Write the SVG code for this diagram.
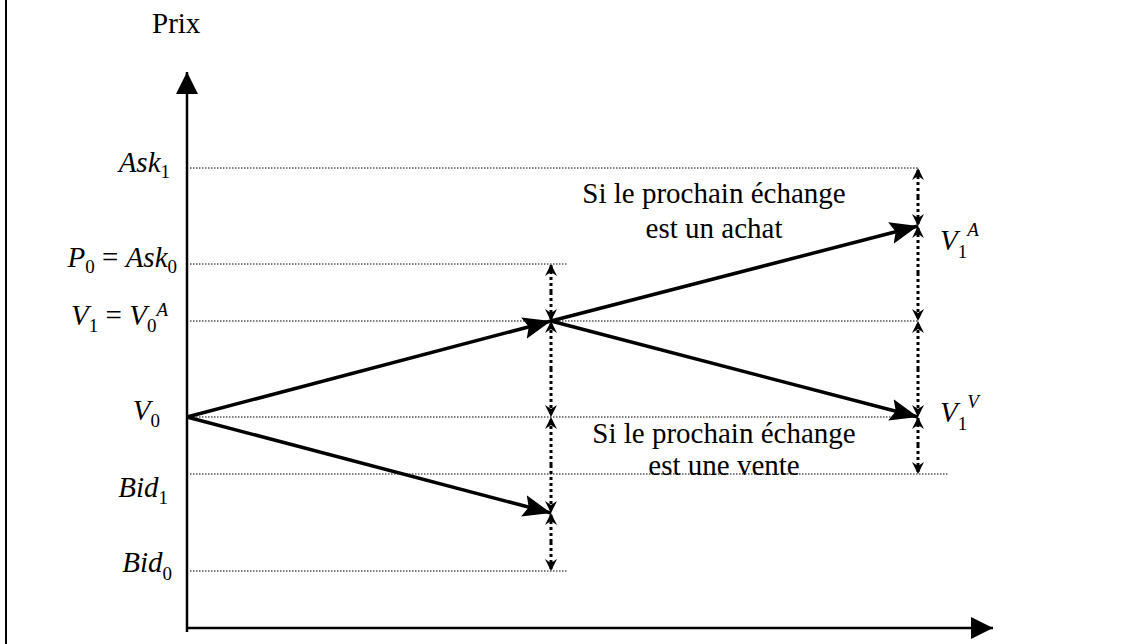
<svg xmlns="http://www.w3.org/2000/svg" width="1136" height="644" viewBox="0 0 1136 644">
<style>
text{font-family:"Liberation Serif","Times New Roman",Times,serif;fill:#000}
.lbl{font-size:29px;font-style:italic}
.sub{font-size:19px;font-style:normal}
.sup{font-size:19px;font-style:italic}
.txt{font-size:29px}
.dot{stroke:#000;stroke-width:1;stroke-dasharray:1.5 1.5;fill:none}
.vd{stroke:#000;stroke-width:3;stroke-dasharray:3 3;fill:none}
.sol{stroke:#000;stroke-width:3.5;fill:none}
.ax{stroke:#000;stroke-width:2.5;fill:none}
</style>
<defs>
<marker id="big" markerUnits="userSpaceOnUse" markerWidth="32" markerHeight="24" refX="28" refY="11" orient="auto" viewBox="0 0 32 24">
<path d="M0,0 L28,11 L0,22 L5,11 Z" fill="#000"/>
</marker>
<marker id="ax" markerUnits="userSpaceOnUse" markerWidth="26" markerHeight="26" refX="22" refY="11" orient="auto" viewBox="0 0 26 26">
<path d="M0,0 L22,11 L0,22 Z" fill="#000"/>
</marker>
<marker id="sm" markerUnits="userSpaceOnUse" markerWidth="14" markerHeight="14" refX="12" refY="6" orient="auto" viewBox="0 0 14 14">
<path d="M0,0 L12,6 L0,12 L4,6 Z" fill="#000"/>
</marker>
</defs>
<rect width="1136" height="644" fill="#fff"/>
<line x1="6" y1="0" x2="6" y2="644" stroke="#000" stroke-width="2"/>
<g id="axes">
<line class="ax" x1="187" y1="632" x2="187" y2="72" marker-end="url(#ax)"/>
<line class="ax" x1="186" y1="628" x2="993" y2="628" marker-end="url(#ax)"/>
</g>
<g id="gridlines">
<line class="dot" x1="190" y1="168" x2="918" y2="168"/>
<line class="dot" x1="190" y1="264" x2="568" y2="264"/>
<line class="dot" x1="190" y1="321" x2="918" y2="321"/>
<line class="dot" x1="190" y1="417" x2="918" y2="417"/>
<line class="dot" x1="190" y1="474" x2="948" y2="474"/>
<line class="dot" x1="190" y1="571" x2="568" y2="571"/>
</g>
<g id="connectors">
<line class="sol" x1="187" y1="417" x2="551" y2="321" marker-end="url(#big)"/>
<line class="sol" x1="551" y1="321" x2="918" y2="226" marker-end="url(#big)"/>
<line class="sol" x1="551" y1="321" x2="918" y2="417" marker-end="url(#big)"/>
<line class="sol" x1="187" y1="417" x2="551" y2="513" marker-end="url(#big)"/>
<g id="vdist">
<line class="vd" x1="551" y1="292" x2="551" y2="264" marker-end="url(#sm)"/>
<line class="vd" x1="551" y1="292" x2="551" y2="321" marker-end="url(#sm)"/>
<line class="vd" x1="551" y1="369" x2="551" y2="321" marker-end="url(#sm)"/>
<line class="vd" x1="551" y1="369" x2="551" y2="417" marker-end="url(#sm)"/>
<line class="vd" x1="551" y1="465" x2="551" y2="417" marker-end="url(#sm)"/>
<line class="vd" x1="551" y1="465" x2="551" y2="513" marker-end="url(#sm)"/>
<line class="vd" x1="551" y1="542" x2="551" y2="513" marker-end="url(#sm)"/>
<line class="vd" x1="551" y1="542" x2="551" y2="571" marker-end="url(#sm)"/>
<line class="vd" x1="918" y1="197" x2="918" y2="168" marker-end="url(#sm)"/>
<line class="vd" x1="918" y1="197" x2="918" y2="226" marker-end="url(#sm)"/>
<line class="vd" x1="918" y1="273" x2="918" y2="226" marker-end="url(#sm)"/>
<line class="vd" x1="918" y1="273" x2="918" y2="321" marker-end="url(#sm)"/>
<line class="vd" x1="918" y1="369" x2="918" y2="321" marker-end="url(#sm)"/>
<line class="vd" x1="918" y1="369" x2="918" y2="417" marker-end="url(#sm)"/>
<line class="vd" x1="918" y1="445" x2="918" y2="417" marker-end="url(#sm)"/>
<line class="vd" x1="918" y1="445" x2="918" y2="474" marker-end="url(#sm)"/>
</g>
</g>
<g id="labels">
<text class="txt" x="152" y="33">Prix</text>
<text class="lbl" x="170" y="172" text-anchor="end">Ask<tspan class="sub" dy="6">1</tspan></text>
<text class="lbl" x="177" y="267" text-anchor="end">P<tspan class="sub" dy="6">0</tspan><tspan dy="-6" font-style="normal"> = </tspan>Ask<tspan class="sub" dy="6">0</tspan></text>
<text class="lbl" x="168" y="325" text-anchor="end">V<tspan class="sub" dy="7">1</tspan><tspan dy="-7" font-style="normal"> = </tspan>V<tspan class="sub" dy="7">0</tspan><tspan class="sup" dy="-16">A</tspan></text>
<text class="lbl" x="160" y="420" text-anchor="end">V<tspan class="sub" dy="7">0</tspan></text>
<text class="lbl" x="168" y="497" text-anchor="end">Bid<tspan class="sub" dy="7">1</tspan></text>
<text class="lbl" x="172" y="572" text-anchor="end">Bid<tspan class="sub" dy="8">0</tspan></text>
<text class="lbl" x="940" y="250">V<tspan class="sub" dy="8">1</tspan><tspan class="sup" dy="-22">A</tspan></text>
<text class="lbl" x="940" y="422">V<tspan class="sub" dy="8">1</tspan><tspan class="sup" dy="-22">V</tspan></text>
<text class="txt" x="714" y="203" text-anchor="middle">Si le prochain échange</text>
<text class="txt" x="714" y="238" text-anchor="middle">est un achat</text>
<text class="txt" x="724" y="443" text-anchor="middle">Si le prochain échange</text>
<text class="txt" x="724" y="475" text-anchor="middle">est une vente</text>
</g>
</svg>
